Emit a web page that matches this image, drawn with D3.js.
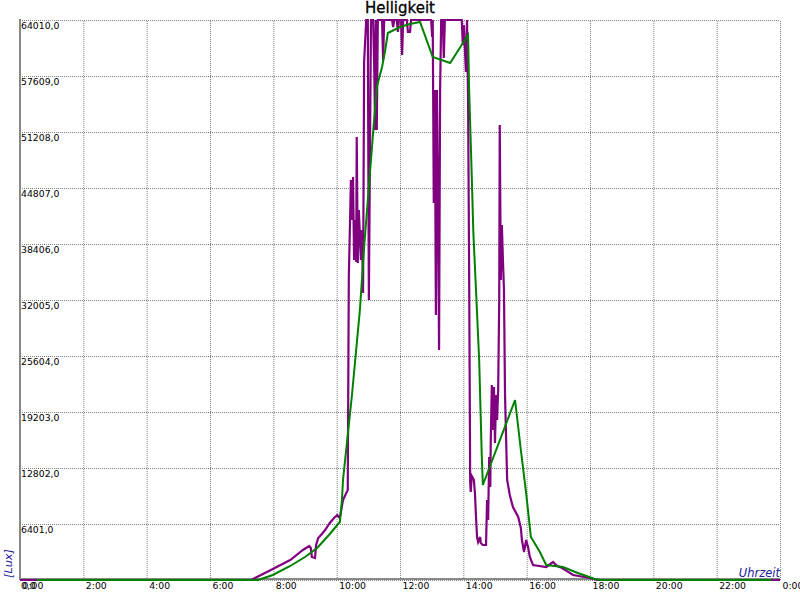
<!DOCTYPE html>
<html><head><meta charset="utf-8">
<script src="https://cdn.jsdelivr.net/npm/d3@7"></script>
<style>
html,body{margin:0;padding:0;background:#fff;}
svg{display:block;font-family:"DejaVu Sans",sans-serif;}
</style></head><body>
<svg id="c" width="800" height="600"></svg>
<script>
const title = "Helligkeit";
const yAxisTitle = "[Lux]";
const xAxisTitle = "Uhrzeit";
const yTickValues = [0,6401,12802,19203,25604,32005,38406,44807,51208,57609,64010];
const yTickLabels = ["0,0","6401,0","12802,0","19203,0","25604,0","32005,0","38406,0","44807,0","51208,0","57609,0","64010,0"];
const xTickValues = [0,120,240,360,480,600,720,840,960,1080,1200,1320,1440];
const xTickLabels = ["0:00","2:00","4:00","6:00","8:00","10:00","12:00","14:00","16:00","18:00","20:00","22:00","0:00"];

// purple series: raw measurements
const rawTimes = ["00:00","07:18","07:59","08:32","08:56","09:08","09:11","09:13","09:19","09:21","09:25","09:32","09:38","09:47","09:55","10:01","10:06","10:12","10:21","10:23","10:27","10:29","10:31","10:33","10:35","10:37","10:38","10:40","10:42","10:46","10:48","10:50","10:52","10:56","10:59","11:01","11:05","11:09","11:11","11:13","11:14","11:16","11:18","11:26","11:28","11:30","11:45","11:47","11:49","11:54","11:56","11:58","12:02","12:04","12:06","12:13","12:15","12:19","12:21","12:59","13:01","13:02","13:04","13:06","13:08","13:10","13:12","13:14","13:16","13:18","13:21","13:23","13:25","13:57","13:59","14:01","14:03","14:05","14:07","14:09","14:11","14:13","14:14","14:16","14:20","14:22","14:24","14:26","14:28","14:32","14:33","14:37","14:43","14:45","14:47","14:49","14:51","14:52","14:54","14:56","14:58","15:00","15:02","15:04","15:06","15:08","15:09","15:11","15:13","15:15","15:17","15:19","15:23","15:28","15:34","15:44","15:49","15:51","15:55","15:59","16:03","16:06","16:12","16:37","16:50","16:58","17:07","17:28","18:00","18:13","24:00"];
const rawValues = [0,0,1257,2286,3429,3886,3658,2629,2515,4001,4801,5258,5715,6515,7087,7430,7087,9144,10287,34520,45722,41149,46065,36577,41149,36349,50637,36234,42292,36577,40006,32805,59209,64010,64010,32005,64010,64010,59095,51437,64010,51437,64010,64010,59438,64010,64010,63210,64010,64010,62639,64010,64010,60010,64010,64010,62639,62639,64010,64010,62067,64010,43093,56009,30291,56009,43778,26290,56009,64010,64010,59667,64010,64010,61153,63438,60581,58067,64010,54866,35091,11087,10059,11888,11430,9944,7201,4915,4343,4915,4229,4001,4001,9144,6858,14059,10630,16002,22289,17145,22061,15660,21146,18289,21717,32005,52008,34291,40578,36577,33148,21146,11430,9716,8344,7201,5944,4572,3200,4572,3658,2629,1715,1486,2057,1600,1372,572,229,0,0];

// green series: smoothed values
const avgTimes = ["00:32","07:31","07:59","08:32","09:00","09:23","09:47","10:06","10:10","10:12","10:29","10:44","10:52","11:01","11:09","11:16","11:26","11:32","11:37","12:00","12:19","12:38","13:02","13:35","14:09","14:11","14:16","14:19","14:24","14:30","14:35","14:37","15:38","15:49","15:59","16:08","16:25","16:37","17:09","17:37","18:09","18:19","23:44"];
const avgValues = [0,0,572,1600,2629,3658,5258,6630,9144,11430,21146,30862,38063,44921,51094,56352,58638,60581,62524,63210,63553,63782,59781,59095,62296,56009,46064,39663,33148,25147,14059,10859,20575,14860,9944,4915,3200,1715,1486,800,114,0,0];

const toMin = s => { const [h,m] = s.split(":").map(Number); return h*60+m; };
const raw = rawTimes.map((t,i)=>({t:toMin(t), v:rawValues[i]}));
const avg = avgTimes.map((t,i)=>({t:toMin(t), v:avgValues[i]}));

const svg = d3.select("#c");
const L=20, R=780, T=20, B=580;
const x = d3.scaleLinear().domain([0,1440]).range([L,R]);
const y = d3.scaleLinear().domain([0,64010]).range([B,T]);

// grid
svg.append("g").attr("transform",`translate(0,${B})`)
  .call(d3.axisBottom(x).tickValues(xTickValues).tickSize(-(B-T)).tickFormat(""))
  .call(g=>g.select(".domain").remove())
  .call(g=>g.selectAll("line").attr("stroke","#808080").attr("stroke-dasharray","1,1"));
svg.append("g").attr("transform",`translate(${L},0)`)
  .call(d3.axisLeft(y).tickValues(yTickValues).tickSize(-(R-L)).tickFormat(""))
  .call(g=>g.select(".domain").remove())
  .call(g=>g.selectAll("line").attr("stroke","#808080").attr("stroke-dasharray","1,1"));

// axis lines
svg.append("line").attr("x1",x(0)).attr("x2",x(0)).attr("y1",T-1).attr("y2",B)
  .attr("stroke","#888").attr("stroke-width",2);
svg.append("line").attr("x1",x(0)).attr("x2",R).attr("y1",B-1).attr("y2",B-1)
  .attr("stroke","#888").attr("stroke-width",2);

// data lines
const line = d3.line().x(d=>x(d.t)).y(d=>y(d.v));
svg.append("path").datum(raw).attr("d",line).attr("fill","none")
  .attr("stroke","#800080").attr("stroke-width",2.2).attr("stroke-linejoin","miter");
svg.append("path").datum(avg).attr("d",line).attr("fill","none")
  .attr("stroke","#008000").attr("stroke-width",2);

// tick labels
svg.append("g").attr("transform",`translate(${L},0)`)
  .call(d3.axisRight(y).tickValues(yTickValues).tickSize(0).tickFormat((d,i)=>yTickLabels[i]))
  .call(g=>g.select(".domain").remove())
  .call(g=>g.selectAll("text").attr("x",1).attr("dy",null).attr("y",8.3)
     .attr("text-anchor","start").attr("font-size",9.3).attr("font-family","DejaVu Sans").attr("fill","#000"));
svg.append("g").attr("transform",`translate(0,${B})`)
  .call(d3.axisBottom(x).tickValues(xTickValues).tickSize(0).tickFormat((d,i)=>xTickLabels[i]))
  .call(g=>g.select(".domain").remove())
  .call(g=>g.selectAll("text").attr("x",2).attr("dy",null).attr("y",9)
     .attr("text-anchor","start").attr("font-size",9.3).attr("font-family","DejaVu Sans").attr("fill","#000"));

// titles
svg.append("text").attr("x",400).attr("y",13.3).attr("text-anchor","middle")
  .attr("font-size",15).attr("fill","#000").attr("stroke","#000").attr("stroke-width",0.3).text(title);
svg.append("text").attr("transform","translate(12,578) rotate(-90)").attr("text-anchor","start")
  .attr("font-size",11.3).attr("font-style","italic").attr("fill","#2020a0").text(yAxisTitle);
svg.append("text").attr("x",780).attr("y",577).attr("text-anchor","end")
  .attr("font-size",11.5).attr("font-style","italic").attr("fill","#2020a0").text(xAxisTitle);
</script>
</body></html>
